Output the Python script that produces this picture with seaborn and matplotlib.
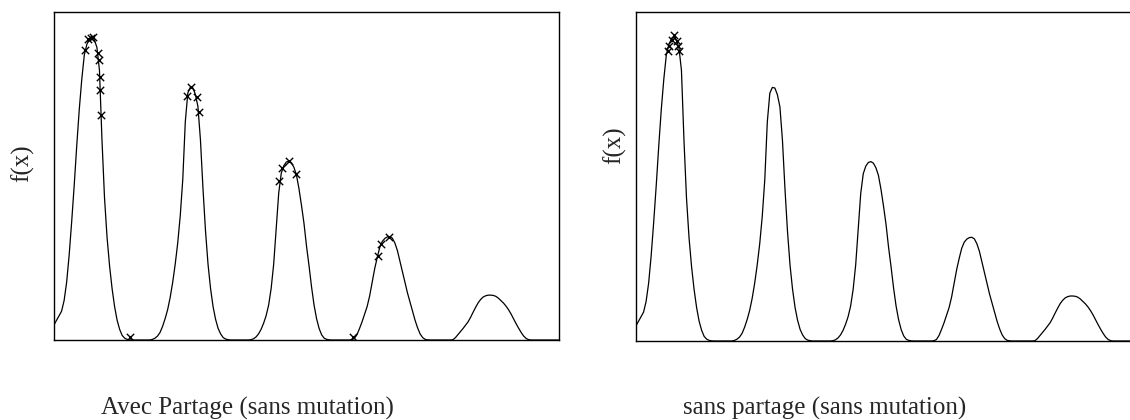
import numpy as np
import pandas as pd
import seaborn as sns
import matplotlib
matplotlib.use('Agg')
import matplotlib.pyplot as plt

# curve f(x), every 0.005 on [0, 1]
x_grid = np.round(np.linspace(0, 1, 201), 3)
f_values = [
    # peak 1
    0.05, 0.065, 0.08, 0.095, 0.13, 0.19, 0.28, 0.39, 0.51, 0.64,
    0.76, 0.86, 0.94, 0.975, 0.993, 1.0, 0.99, 0.965, 0.89, 0.66,
    0.47, 0.34, 0.245, 0.17, 0.11, 0.065, 0.035, 0.015, 0.006, 0.002,
    0.0005, 0, 0, 0, 0, 0, 0, 0,
    # peak 2
    0, 0.002, 0.006, 0.013, 0.025, 0.045, 0.07, 0.10, 0.14, 0.19,
    0.25, 0.32, 0.41, 0.53, 0.72, 0.815, 0.834, 0.832, 0.81, 0.77,
    0.66, 0.50, 0.36, 0.25, 0.17, 0.11, 0.068, 0.038, 0.02, 0.008,
    0.003, 0.001, 0, 0, 0, 0, 0, 0, 0,
    # peak 3
    0, 0.001, 0.004, 0.01, 0.02, 0.035, 0.055, 0.08, 0.115, 0.17,
    0.25, 0.37, 0.485, 0.55, 0.575, 0.587, 0.59, 0.585, 0.57, 0.545,
    0.50, 0.445, 0.385, 0.31, 0.245, 0.175, 0.115, 0.07, 0.038, 0.017,
    0.006, 0.002, 0.0005, 0, 0, 0, 0, 0, 0, 0,
    # peak 4
    0, 0.001, 0.005, 0.018, 0.038, 0.06, 0.085, 0.11, 0.145, 0.19,
    0.235, 0.272, 0.305, 0.325, 0.335, 0.34, 0.341, 0.336, 0.32, 0.295,
    0.26, 0.225, 0.19, 0.155, 0.125, 0.095, 0.065, 0.04, 0.02, 0.008,
    0.002, 0.0005, 0, 0, 0, 0, 0, 0, 0, 0,
    # peak 5
    0, 0.001, 0.008, 0.018, 0.028, 0.038, 0.049, 0.06, 0.075, 0.092,
    0.108, 0.123, 0.134, 0.142, 0.146, 0.148, 0.148, 0.147, 0.144, 0.138,
    0.13, 0.122, 0.112, 0.10, 0.086, 0.07, 0.054, 0.039, 0.025, 0.013,
    0.005, 0.001, 0, 0, 0, 0, 0, 0, 0, 0,
    0, 0, 0, 0,
]

# population after convergence, with sharing
share_x = [0.0614, 0.0679, 0.0727, 0.0766, 0.0875, 0.0885, 0.0908, 0.092, 0.0927,
           0.150,
           0.2634, 0.2713, 0.2826, 0.2877,
           0.4461, 0.4521, 0.4659, 0.4792,
           0.593,
           0.641, 0.647, 0.663]
share_y = [0.957, 0.993, 0.997, 0.998, 0.948, 0.924, 0.866, 0.825, 0.742,
           0.01,
           0.806, 0.834, 0.802, 0.752,
           0.526, 0.567, 0.591, 0.549,
           0.01,
           0.278, 0.316, 0.341]

# population after convergence, without sharing
noshare_x = [0.0634, 0.0659, 0.0707, 0.0758, 0.0806, 0.0835, 0.086]
noshare_y = [0.955, 0.971, 0.990, 1.007, 0.988, 0.971, 0.953]

captions = ['Avec Partage (sans mutation)', 'sans partage (sans mutation)']

sns.set_style('white')
plt.rcParams['font.family'] = ['Liberation Serif', 'DejaVu Serif']

curve = pd.DataFrame({'x': x_grid, 'f': f_values})
pops = [pd.DataFrame({'x': share_x, 'f': share_y}),
        pd.DataFrame({'x': noshare_x, 'f': noshare_y})]

fig = plt.figure(figsize=(11.3, 4.2), dpi=100)
ax_l = fig.add_axes([54 / 1130, 80 / 420, 505 / 1130, 328 / 420])
ax_r = fig.add_axes([636 / 1130, 79 / 420, 505 / 1130, 329 / 420])

for ax, pop in zip([ax_l, ax_r], pops):
    sns.lineplot(data=curve, x='x', y='f', ax=ax, color='black', linewidth=0.9)
    sns.scatterplot(data=pop, x='x', y='f', ax=ax, marker='x', color='black',
                    s=28, linewidth=1.0, zorder=3)
    ax.set_xlim(0, 1)
    ax.set_ylim(0, 1.082)
    ax.set_xticks([])
    ax.set_yticks([])
    ax.set_xlabel('')
    ax.set_ylabel('')
    for sp in ax.spines.values():
        sp.set_color('black')
        sp.set_linewidth(1.0)

fig.text(23 / 1130, 1 - 163 / 420, 'f(x)', rotation=90, ha='center', va='center', fontsize=18)
fig.text(615 / 1130, 1 - 145 / 420, 'f(x)', rotation=90, ha='center', va='center', fontsize=18)
fig.text(247 / 1130, 1 - 408 / 420, captions[0], ha='center', va='center', fontsize=18)
fig.text(825 / 1130, 1 - 408 / 420, captions[1], ha='center', va='center', fontsize=18)

fig.savefig('out.png', dpi=100)
